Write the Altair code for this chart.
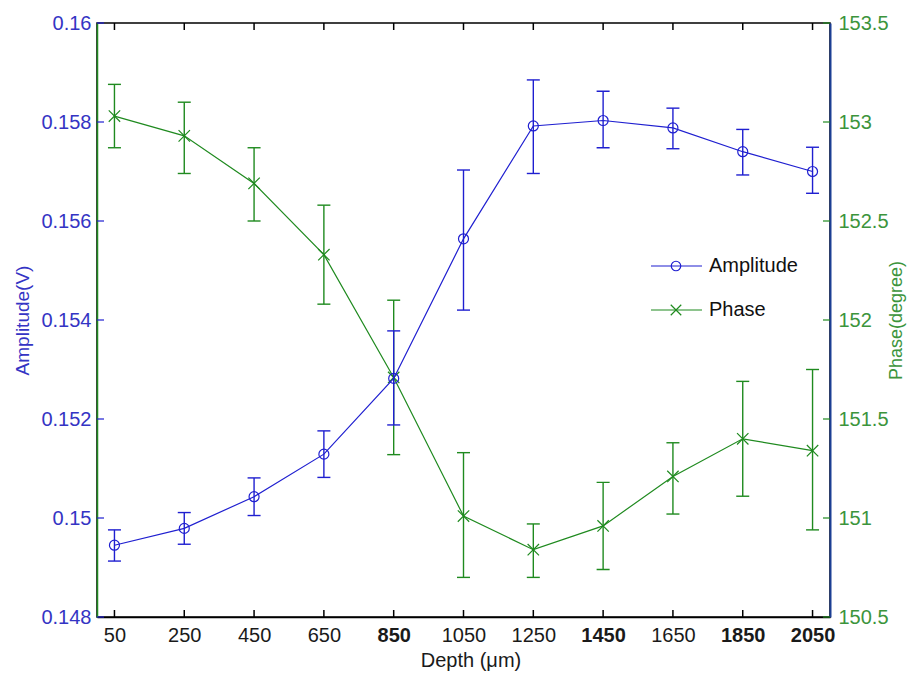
import altair as alt
import pandas as pd

# ---------------- data ----------------
depth = [50, 250, 450, 650, 850, 1050, 1250, 1450, 1650, 1850, 2050]
amp = [0.14945, 0.14979, 0.15043, 0.15129, 0.15282, 0.15564, 0.15792, 0.15803, 0.15788, 0.15740, 0.15700]
amp_lo = [0.14913, 0.14947, 0.15005, 0.15082, 0.15188, 0.15420, 0.15696, 0.15748, 0.15746, 0.15693, 0.15656]
amp_hi = [0.14976, 0.15011, 0.15081, 0.15176, 0.15378, 0.15703, 0.15885, 0.15862, 0.15828, 0.15785, 0.15749]
phase = [153.03, 152.93, 152.69, 152.33, 151.71, 151.01, 150.84, 150.96, 151.21, 151.40, 151.34]
phase_lo = [152.87, 152.74, 152.50, 152.08, 151.32, 150.70, 150.70, 150.74, 151.02, 151.11, 150.94]
phase_hi = [153.19, 153.10, 152.87, 152.58, 152.10, 151.33, 150.97, 151.18, 151.38, 151.69, 151.75]

x_ticks = [50, 250, 450, 650, 850, 1050, 1250, 1450, 1650, 1850, 2050]
bold_x_ticks = [850, 1450, 1850, 2050]
amp_ticks = [0.148, 0.150, 0.152, 0.154, 0.156, 0.158, 0.160]
phase_ticks = [150.5, 151.0, 151.5, 152.0, 152.5, 153.0, 153.5]
series_names = ["Amplitude", "Phase"]

# ---------------- style ----------------
W, H = 733, 594
FONT = "Liberation Sans"
BLUE = "#1f1fd0"
BLUE_TXT = "#3434c4"
GREEN = "#1f8a1f"
GREEN_TXT = "#3c943c"
NAVY = "#1c3f94"

amp_df = pd.DataFrame({"depth": depth, "amp": amp, "amp_lo": amp_lo, "amp_hi": amp_hi})
ph_df = pd.DataFrame({"depth": depth, "phase": phase, "phase_lo": phase_lo, "phase_hi": phase_hi})
xt_df = pd.DataFrame({"tick": x_ticks})
at_df = pd.DataFrame({"tick": amp_ticks})
pt_df = pd.DataFrame({"tick": phase_ticks})

x_scale = alt.Scale(domain=[0, 2100], nice=False, zero=False)
amp_scale = alt.Scale(domain=[0.148, 0.160], nice=False, zero=False)
ph_scale = alt.Scale(domain=[150.5, 153.5], nice=False, zero=False)

bold_test = "indexof([" + ",".join(str(v) for v in bold_x_ticks) + "], datum.value) >= 0"
x_axis = alt.Axis(
    values=x_ticks, format="d", title="Depth (μm)", ticks=False, grid=False,
    domainColor="black", domainWidth=1.5, labelFont=FONT, labelFontSize=20,
    labelColor="#1a1a1a", labelPadding=8, labelFlush=False, labelOverlap=False,
    labelFontWeight={"condition": {"test": bold_test, "value": "bold"}, "value": "normal"},
    titleFont=FONT, titleFontSize=20, titleFontWeight="normal", titleColor="#1a1a1a",
    titlePadding=5, titleX=W / 2 + 7, titleAlign="center",
)
amp_axis = alt.Axis(
    values=amp_ticks, format=".3~f", orient="left", title="Amplitude(V)", ticks=False,
    grid=False, domainColor=GREEN, domainWidth=1.5, labelFont=FONT, labelFontSize=20,
    labelColor=BLUE_TXT, labelPadding=6, labelOverlap=False, titleFont=FONT,
    titleFontSize=19, titleFontWeight="normal", titleColor=BLUE_TXT, titlePadding=8,
)
ph_axis = alt.Axis(
    values=phase_ticks, format=".1~f", orient="right", title="Phase(degree)", ticks=False,
    grid=False, domainColor=NAVY, domainWidth=2, labelFont=FONT, labelFontSize=20,
    labelColor=GREEN_TXT, labelPadding=8, labelOverlap=False, titleFont=FONT,
    titleFontSize=18, titleFontWeight="normal", titleColor=GREEN_TXT, titlePadding=17,
    titleAngle=270,
)

X = alt.X("depth:Q", scale=x_scale, axis=x_axis)
XT = alt.X("tick:Q", scale=x_scale, axis=x_axis)

# ---------------- phase layer ----------------
ph_base = alt.Chart(ph_df).encode(x=X)
ph_line = ph_base.mark_line(color=GREEN, strokeWidth=1.2).encode(
    y=alt.Y("phase:Q", scale=ph_scale, axis=ph_axis))
ph_pts = ph_base.mark_point(shape="M-1,-1L1,1M-1,1L1,-1", filled=False, color=GREEN,
                            size=130, strokeWidth=1.2, opacity=1).encode(
    y=alt.Y("phase:Q", scale=ph_scale, axis=ph_axis))
ph_err = ph_base.mark_rule(color=GREEN, strokeWidth=1.4).encode(
    y=alt.Y("phase_lo:Q", scale=ph_scale, axis=ph_axis), y2="phase_hi:Q")
ph_cap_lo = ph_base.mark_tick(orient="horizontal", size=13, thickness=1.4, color=GREEN, opacity=1).encode(
    y=alt.Y("phase_lo:Q", scale=ph_scale, axis=ph_axis))
ph_cap_hi = ph_base.mark_tick(orient="horizontal", size=13, thickness=1.4, color=GREEN, opacity=1).encode(
    y=alt.Y("phase_hi:Q", scale=ph_scale, axis=ph_axis))
ph_axis_ticks = alt.Chart(pt_df).mark_rule(color=GREEN, strokeWidth=1.2).encode(
    y=alt.Y("tick:Q", scale=ph_scale, axis=ph_axis), x=alt.value(W - 7), x2=alt.value(W))
ph_layer = alt.layer(ph_err, ph_cap_lo, ph_cap_hi, ph_line, ph_pts, ph_axis_ticks)

# ---------------- amplitude layer ----------------
amp_base = alt.Chart(amp_df).encode(x=X)
amp_line = amp_base.mark_line(color=BLUE, strokeWidth=1.2).encode(
    y=alt.Y("amp:Q", scale=amp_scale, axis=amp_axis))
amp_pts = amp_base.mark_point(shape="circle", filled=False, color=BLUE, size=100,
                              strokeWidth=1.2, opacity=1).encode(
    y=alt.Y("amp:Q", scale=amp_scale, axis=amp_axis))
amp_err = amp_base.mark_rule(color=BLUE, strokeWidth=1.4).encode(
    y=alt.Y("amp_lo:Q", scale=amp_scale, axis=amp_axis), y2="amp_hi:Q")
amp_cap_lo = amp_base.mark_tick(orient="horizontal", size=13, thickness=1.4, color=BLUE, opacity=1).encode(
    y=alt.Y("amp_lo:Q", scale=amp_scale, axis=amp_axis))
amp_cap_hi = amp_base.mark_tick(orient="horizontal", size=13, thickness=1.4, color=BLUE, opacity=1).encode(
    y=alt.Y("amp_hi:Q", scale=amp_scale, axis=amp_axis))
amp_axis_ticks = alt.Chart(at_df).mark_rule(color=BLUE, strokeWidth=1.2).encode(
    y=alt.Y("tick:Q", scale=amp_scale, axis=amp_axis), x=alt.value(0), x2=alt.value(7))
amp_layer = alt.layer(amp_err, amp_cap_lo, amp_cap_hi, amp_line, amp_pts, amp_axis_ticks)

# ---------------- inward x ticks (top and bottom) ----------------
top_ticks = alt.Chart(xt_df).mark_rule(color="black", strokeWidth=1.5).encode(
    x=XT, y=alt.value(0), y2=alt.value(7))
bot_ticks = alt.Chart(xt_df).mark_rule(color="black", strokeWidth=1.5).encode(
    x=XT, y=alt.value(H - 7), y2=alt.value(H))

# ---------------- legend (drawn inside the plot) ----------------
def legend_entry(name, color, shape, size, y):
    d = alt.Chart(pd.DataFrame({"label": [name]}))
    line = d.mark_rule(color=color, strokeWidth=1.2).encode(
        x=alt.value(554), x2=alt.value(605), y=alt.value(y))
    mk = d.mark_point(shape=shape, filled=False, color=color, size=size,
                      strokeWidth=1.2, opacity=1).encode(x=alt.value(579), y=alt.value(y))
    txt = d.mark_text(align="left", baseline="middle", font=FONT, fontSize=20,
                      color="#111111").encode(x=alt.value(612), y=alt.value(y), text="label:N")
    return [line, mk, txt]

legend_layers = (legend_entry(series_names[0], BLUE, "circle", 90, 243)
                 + legend_entry(series_names[1], GREEN, "M-1,-1L1,1M-1,1L1,-1", 110, 287))

chart = alt.layer(
    top_ticks, bot_ticks, ph_layer, amp_layer, *legend_layers
).resolve_scale(y="independent").properties(
    width=W, height=H,
    autosize=alt.AutoSizeParams(type="none"),
    padding={"left": 89, "top": 15, "right": 77, "bottom": 56},
    background="white",
).configure_view(stroke="black", strokeWidth=1.5)

chart.save("out.html", embed_options={"renderer": "svg", "actions": False})
